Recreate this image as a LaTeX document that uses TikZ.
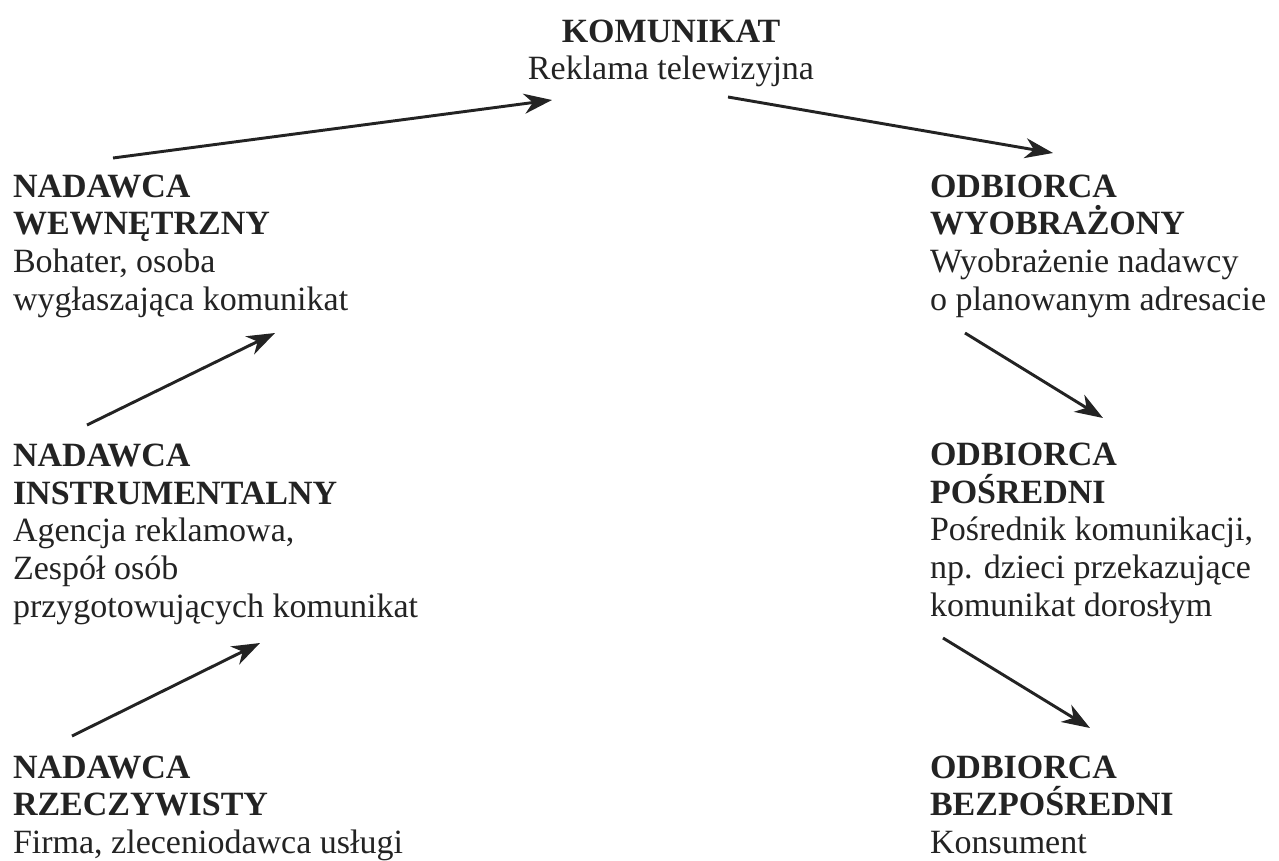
\documentclass[tikz,border=0pt]{standalone}
\usepackage{fontspec}
\setmainfont{Liberation Serif}
\usetikzlibrary{arrows.meta}
\definecolor{ink}{HTML}{232323}
\begin{document}
\begin{tikzpicture}[x=0.75pt,y=-0.75pt,
  lbl/.style={inner sep=0pt, outer sep=0pt, align=left, anchor=north west, text=ink,
    font=\fontsize{25.5pt}{28.3pt}\selectfont},
  toplbl/.style={lbl, align=center, anchor=north},
  arr/.style={draw=ink, line width=2.2pt, -{Stealth[length=21pt,width=15pt,inset=6.5pt]}}]
\useasboundingbox (0,0) rectangle (1279,861);
\node[toplbl] (kom) at (671,19.5) {\textbf{KOMUNIKAT}\\Reklama telewizyjna};
\node[lbl] (l1) at (13,174.5) {\textbf{NADAWCA}\\\textbf{WEWNĘTRZNY}\\Bohater, osoba\\wygłaszająca komunikat};
\node[lbl] (l2) at (13,444) {\textbf{NADAWCA}\\\textbf{INSTRUMENTALNY}\\Agencja reklamowa,\\Zespół osób\\przygotowujących komunikat};
\node[lbl] (l3) at (13,755.5) {\textbf{NADAWCA}\\\textbf{RZECZYWISTY}\\Firma, zleceniodawca usługi};
\node[lbl] (r1) at (930,174.5) {\textbf{ODBIORCA}\\\textbf{WYOBRAŻONY}\\Wyobrażenie nadawcy\\o planowanym adresacie};
\node[lbl] (r2) at (930,443) {\textbf{ODBIORCA}\\\textbf{POŚREDNI}\\Pośrednik komunikacji,\\np. dzieci przekazujące\\komunikat dorosłym};
\node[lbl] (r3) at (930,755.5) {\textbf{ODBIORCA}\\\textbf{BEZPOŚREDNI}\\Konsument};
\coordinate (a1s) at (113,158); \coordinate (a1e) at (552,100);
\coordinate (a2s) at (728,97);  \coordinate (a2e) at (1053,153);
\coordinate (a3s) at (87,425);  \coordinate (a3e) at (275,333);
\coordinate (a4s) at (72,736);  \coordinate (a4e) at (260,643);
\coordinate (a5s) at (965,333); \coordinate (a5e) at (1103,418);
\coordinate (a6s) at (943,638); \coordinate (a6e) at (1090,728);
\draw[arr] (a1s) -- (a1e);
\draw[arr] (a2s) -- (a2e);
\draw[arr] (a3s) -- (a3e);
\draw[arr] (a4s) -- (a4e);
\draw[arr] (a5s) -- (a5e);
\draw[arr] (a6s) -- (a6e);
\end{tikzpicture}
\end{document}
